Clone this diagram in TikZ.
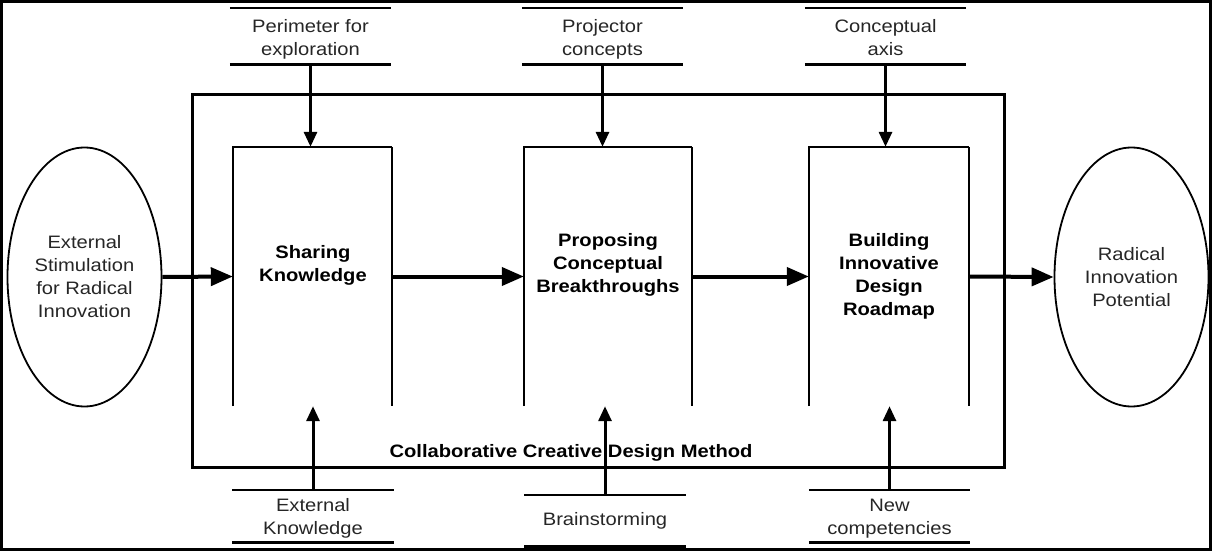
\documentclass[tikz,border=0pt]{standalone}
\usepackage{fontspec}
\setmainfont{Liberation Sans}[FakeStretch=1.12]
\usetikzlibrary{arrows.meta,shapes.geometric}
\begin{document}
\begin{tikzpicture}[x=1pt,y=-1pt,
  txt/.style={font=\fontsize{18}{23}\selectfont, align=center, text=black!85, inner sep=0pt},
  boxtxt/.style={txt, font=\fontsize{18}{23}\selectfont\bfseries, text=black},
  lab/.style={txt, minimum width=161pt},
  procbox/.style={rectangle, draw=none, minimum width=159pt, minimum height=259pt, inner sep=0pt},
  ell/.style={ellipse, draw, line width=1.8pt, minimum width=154pt, minimum height=259pt, inner sep=0pt, txt},
  harrow/.style={line width=4pt, -{Triangle[length=22pt,width=18pt]}},
  varrow/.style={line width=3pt, -{Triangle[length=15pt,width=13pt]}},
  thinl/.style={line width=1.2pt},
  thickl/.style={line width=3pt}]
\useasboundingbox (0,0) rectangle (1212,551);
\draw[line width=3pt] (1.5,1.5) rectangle (1210.5,549.5);

% method box
\node[draw, line width=3pt, minimum width=812pt, minimum height=373pt, inner sep=0pt] (m) at (598,280.5) {};
\node[boxtxt] (mt) at (571,453) {Collaborative Creative Design Method};

% ellipses
\node[ell] (e1) at (84.5,277) {External\\Stimulation\\for Radical\\Innovation};
\node[ell] (e2) at (1131.5,277) {Radical\\Innovation\\Potential};

% process boxes
\node[procbox] (b1) at (312.5,276.5) {};
\node[procbox, minimum width=168pt] (b2) at (608,276.5) {};
\node[procbox, minimum width=160pt] (b3) at (889,276.5) {};
\foreach \b in {b1,b2,b3}{
  \draw[line width=1.5pt] (\b.south west) -- (\b.north west) -- (\b.north east);
  \draw[line width=2.5pt] (\b.north east) -- (\b.south east);
}
\node[boxtxt] (t1) at (313,265) {Sharing\\Knowledge};
\node[boxtxt] (t2) at (608,265) {Proposing\\Conceptual\\Breakthroughs};
\node[boxtxt] (t3) at (889,276) {Building\\Innovative\\Design\\Roadmap};

% top labels
\node[lab] (tl1) at (310.5,39) {Perimeter for\strut\\exploration\strut};
\node[lab] (tl2) at (602.5,39) {Projector\strut\\concepts\strut};
\node[lab] (tl3) at (885.5,39) {Conceptual\strut\\axis\strut};
\foreach \l in {tl1,tl2,tl3}{
  \draw[thinl] (\l.west |- 0,8) -- (\l.east |- 0,8);
  \draw[thickl] (\l.west |- 0,65) -- (\l.east |- 0,65);
}

% bottom labels
\node[lab] (bl1) at (313,518.5) {External\strut\\Knowledge\strut};
\node[lab] (bl2) at (605,521) {Brainstorming};
\node[lab] (bl3) at (889.5,518.5) {New\strut\\competencies\strut};
\foreach \l in {bl1,bl3}{
  \draw[thinl] (\l.west |- 0,490) -- (\l.east |- 0,490);
  \draw[thickl] (\l.west |- 0,542) -- (\l.east |- 0,542);
}
\draw[thinl] (bl2.west |- 0,495) -- (bl2.east |- 0,495);
\draw[line width=4pt] (bl2.west |- 0,547) -- (bl2.east |- 0,547);

% horizontal arrows
\draw[harrow] (e1.east) -- (b1.west);
\draw[harrow] (b1.east) -- (b2.west);
\draw[harrow] (b2.east) -- (b3.west);
\draw[harrow] (b3.east) -- (e2.west);

% vertical arrows
\draw[varrow] (tl1.center |- 0,65) -- (tl1.center |- b1.north);
\draw[varrow] (tl2.center |- 0,65) -- (tl2.center |- b2.north);
\draw[varrow] (tl3.center |- 0,65) -- (tl3.center |- b3.north);
\draw[varrow] (bl1.center |- 0,490) -- (bl1.center |- b1.south);
\draw[varrow] (bl2.center |- 0,495) -- (bl2.center |- b2.south);
\draw[varrow] (bl3.center |- 0,490) -- (bl3.center |- b3.south);
\end{tikzpicture}
\end{document}
